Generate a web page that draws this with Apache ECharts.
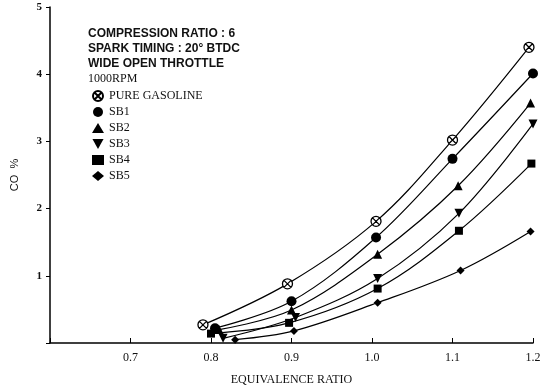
<!DOCTYPE html>
<html><head><meta charset="utf-8">
<script src="https://cdn.jsdelivr.net/npm/echarts@6/dist/echarts.min.js"></script>
<style>html,body{margin:0;padding:0;background:#fff}#c{width:553px;height:391px}</style>
</head><body><div id="c"></div>
<script>
var seriesNames = ['PURE GASOLINE','SB1','SB2','SB3','SB4','SB5'];
var pureX = [0.79, 0.895, 1.005, 1.1, 1.195];
var pureY = [0.27, 0.88, 1.81, 3.02, 4.40];
var sb1X = [0.805, 0.9, 1.005, 1.1, 1.2];
var sb1Y = [0.22, 0.62, 1.57, 2.74, 4.01];
var sb2X = [0.81, 0.9, 1.007, 1.107, 1.197];
var sb2Y = [0.20, 0.49, 1.32, 2.34, 3.57];
var sb3X = [0.815, 0.905, 1.007, 1.108, 1.2];
var sb3Y = [0.07, 0.38, 0.96, 1.93, 3.26];
var sb4X = [0.8, 0.897, 1.007, 1.108, 1.198];
var sb4Y = [0.14, 0.30, 0.81, 1.67, 2.67];
var sb5X = [0.83, 0.903, 1.007, 1.11, 1.197];
var sb5Y = [0.05, 0.18, 0.60, 1.08, 1.66];
var xTicks = ['0.7','0.8','0.9','1.0','1.1','1.2'];
var yTicks = ['1','2','3','4','5'];
var headerLines = ['COMPRESSION RATIO : 6','SPARK TIMING : 20\u00b0 BTDC','WIDE OPEN THROTTLE','1000RPM'];

function pairs(xs, ys){ return xs.map(function(x,i){ return [x, ys[i]]; }); }
var otimes = 'path://M0,10 A10,10 0 1,1 20,10 A10,10 0 1,1 0,10 Z M3,3 L17,17 M17,3 L3,17';
var downTri = 'path://M0,0 L20,0 L10,18 Z';
var symbols = [otimes, 'circle', 'triangle', downTri, 'rect', 'diamond'];
var sizes = [10, 10, 9, 9, 8, 8];
var datas = [pairs(pureX,pureY), pairs(sb1X,sb1Y), pairs(sb2X,sb2Y), pairs(sb3X,sb3Y), pairs(sb4X,sb4Y), pairs(sb5X,sb5Y)];

var series = seriesNames.map(function(n,i){
  return {
    name: n, type: 'line', smooth: 0.35, data: datas[i],
    symbol: symbols[i], symbolSize: sizes[i],
    lineStyle: {color: '#000', width: 1.2},
    itemStyle: i === 0 ? {color: '#fff', borderColor: '#000', borderWidth: 1.3} : {color: '#000'},
    z: 3
  };
});

var chart = echarts.init(document.getElementById('c'), null, {renderer: 'canvas'});
chart.setOption({
  animation: false,
  backgroundColor: '#fff',
  grid: {left: 50, right: 20, top: 7, bottom: 47},
  legend: {
    orient: 'vertical', left: 87, top: 85, itemGap: 4, itemWidth: 12, itemHeight: 10,
    data: seriesNames.map(function(n,i){ return {name: n, icon: symbols[i]}; }),
    textStyle: {fontFamily: 'Liberation Serif', fontSize: 12, color: '#111'},
    selectedMode: false
  },
  graphic: headerLines.map(function(t,i){
    return {type: 'text', left: 88, top: 28 + i*15,
      style: {text: t, font: (i === 3 ? 'normal 12px "Liberation Serif"' : 'bold 12px "Liberation Sans"'), fill: '#111'}};
  }),
  xAxis: {
    type: 'value', min: 0.6, max: 1.2, interval: 0.1,
    name: 'EQUIVALENCE RATIO', nameLocation: 'middle', nameGap: 31,
    nameTextStyle: {fontFamily: 'Liberation Serif', fontSize: 12, color: '#111'},
    axisLine: {lineStyle: {color: '#000', width: 1.5}},
    axisTick: {inside: true, length: 5, lineStyle: {color: '#000'}},
    splitLine: {show: false},
    axisLabel: {fontFamily: 'Liberation Serif', fontSize: 12, color: '#111', margin: 9,
      formatter: function(v){ var s = v.toFixed(1); return xTicks.indexOf(s) >= 0 ? s : ''; }}
  },
  yAxis: {
    type: 'value', min: 0, max: 5, interval: 1,
    name: 'CO  %', nameLocation: 'middle', nameGap: 30, nameRotate: 90,
    nameTextStyle: {fontFamily: 'Liberation Sans', fontSize: 11, color: '#111'},
    axisLine: {show: true, lineStyle: {color: '#000', width: 1.5}},
    axisTick: {show: true, length: 4, lineStyle: {color: '#000'}},
    splitLine: {show: false},
    axisLabel: {fontFamily: 'Liberation Serif', fontSize: 11, fontWeight: 'bold', color: '#111', margin: 8,
      formatter: function(v){ var s = String(Math.round(v)); return yTicks.indexOf(s) >= 0 ? s : ''; }}
  },
  series: series
});
</script>
</body></html>
